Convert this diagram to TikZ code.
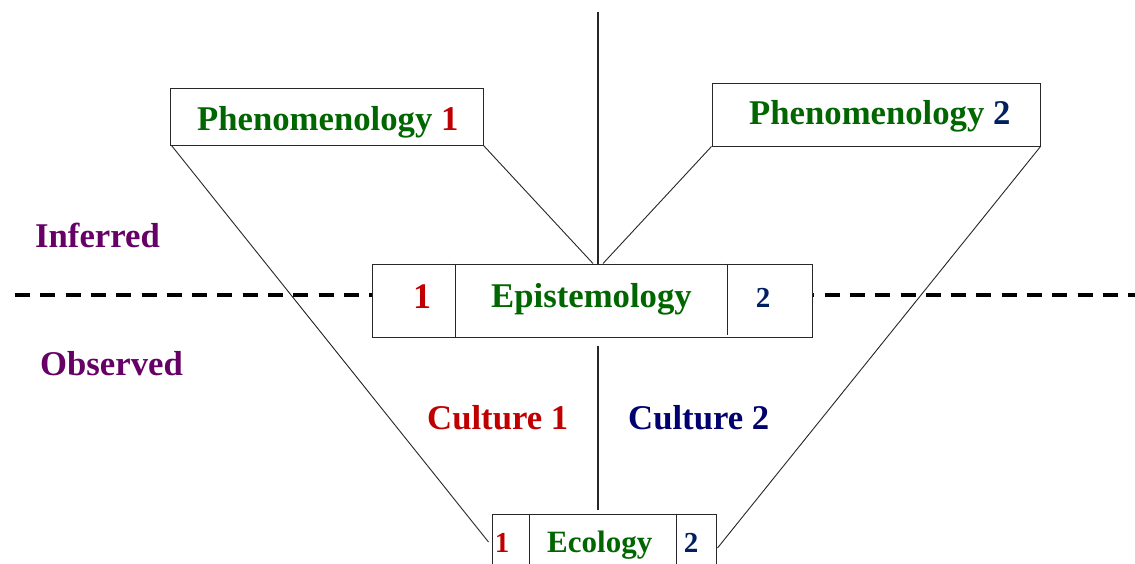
\documentclass[tikz,border=0pt]{standalone}
\usepackage{fontspec}
\setmainfont{Liberation Serif}
\usetikzlibrary{calc}
\definecolor{dgreen}{RGB}{0,102,0}
\definecolor{dred}{RGB}{192,0,0}
\definecolor{navyA}{RGB}{0,32,96}
\definecolor{navyB}{RGB}{0,0,110}
\definecolor{dpurple}{RGB}{102,0,102}
\definecolor{edge}{RGB}{40,40,40}
\tikzset{
  box/.style={draw=edge, line width=1pt, fill=white, rectangle, inner sep=0pt},
  conn/.style={draw=black!85, line width=0.9pt},
  divider/.style={draw=black!85, line width=1pt},
  lbl/.style={inner sep=0pt, font=\fontsize{34.7}{40}\selectfont\bfseries},
  small/.style={inner sep=0pt, font=\fontsize{29}{34}\selectfont\bfseries},
  levelline/.style={draw=black, line width=3.8pt, dash pattern=on 15pt off 10.3pt}
}
\begin{document}
\begin{tikzpicture}[x=1pt,y=-1pt]
\clip (0,0) rectangle (1135,563);
\fill[white] (0,0) rectangle (1135,563);

% dashed level line (behind the epistemology box)
\coordinate (dl) at (15,295);
\coordinate (dr) at (1140,295);
\draw[levelline] (dl) -- (dr);

% boxes
\node[box, minimum width=313pt, minimum height=57pt] (ph1) at (326.5,116.5) {};
\node[box, minimum width=328pt, minimum height=63pt] (ph2) at (876,114.5) {};
\node[box, minimum width=440pt, minimum height=73pt] (epi) at (592,300.5) {};
\node[box, minimum width=224pt, minimum height=62pt] (eco) at (604,545) {};

% dividers
\draw[divider] ($(epi.north west)+(84,0)$) -- ($(epi.south west)+(84,0)$);
\draw[divider] ($(epi.north west)+(356,0)$) -- ($(epi.south west)+(356,-3)$);
\draw[divider] ($(eco.north west)+(38,0)$) -- ($(eco.south west)+(38,0)$);
\draw[divider] ($(eco.north west)+(185,0)$) -- ($(eco.south west)+(185,0)$);

% vertical axis
\coordinate (vtop) at (598,12);
\draw[conn, line width=1.1pt] (vtop) -- ($(epi.north)+(6,0)$);
\draw[conn, line width=1.1pt] ($(epi.south)+(6,8)$) -- ($(eco.north)+(-6,-4)$);

% connectors
\draw[conn] ($(ph1.south west)+(2,0)$) -- ($(eco.west)+(-3,-3)$);
\draw[conn] (ph1.south east) -- ($(epi.north)+(1,0)$);
\draw[conn] (ph2.south west) -- ($(epi.north)+(11,0)$);
\draw[conn] (ph2.south east) -- ($(eco.east)+(1,3)$);

% texts
\node[lbl, anchor=base west] (tph1) at (197,130) {\textcolor{dgreen}{Phenomenology} \textcolor{dred}{1}};
\node[lbl, anchor=base west] (tph2) at (749,124) {\textcolor{dgreen}{Phenomenology} \textcolor{navyA}{2}};
\node[lbl, anchor=base, text=dred, font=\fontsize{36}{40}\selectfont\bfseries] (e1) at (422,308) {1};
\node[lbl, anchor=base west, text=dgreen] (tepi) at (491,307) {Epistemology};
\node[small, anchor=base, text=navyA] (e2) at (763,307) {2};
\node[lbl, anchor=base west, text=dpurple] (inf) at (35,247) {Inferred};
\node[lbl, anchor=base west, text=dpurple] (obs) at (40,375) {Observed};
\node[lbl, anchor=base west, text=dred] (c1) at (427,429) {Culture 1};
\node[lbl, anchor=base west, text=navyB] (c2) at (628,429) {Culture 2};
\node[small, anchor=base, text=dred] (k1) at (502,552) {1};
\node[lbl, anchor=base west, text=dgreen, font=\fontsize{31}{36}\selectfont\bfseries] (teco) at (547,552) {Ecology};
\node[small, anchor=base, text=navyA] (k2) at (691,552) {2};
\end{tikzpicture}
\end{document}
